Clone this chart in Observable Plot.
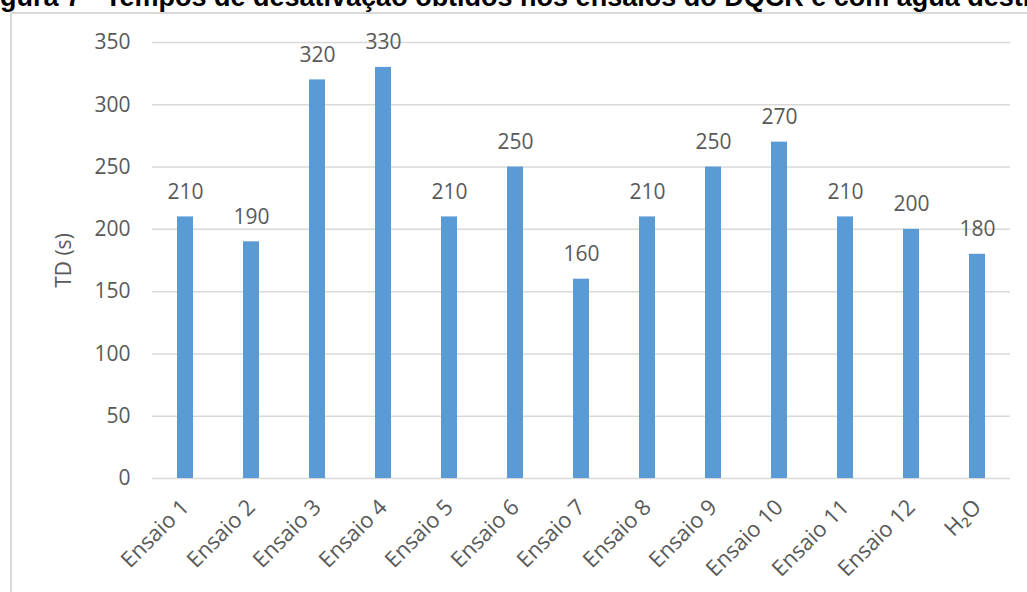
<!DOCTYPE html>
<html>
<head>
<meta charset="utf-8">
<script src="https://cdn.jsdelivr.net/npm/d3@7"></script>
<script src="https://cdn.jsdelivr.net/npm/@observablehq/plot@0.6"></script>
<style>
  html, body { margin: 0; padding: 0; background: #fff; overflow: hidden; width: 1027px; height: 592px; }
  #title { position: absolute; left: -24px; top: -16px; white-space: nowrap; font-family: "Liberation Sans", Arial, sans-serif; font-weight: bold; font-size: 27px; line-height: 27px; color: #000; }
  #frame { position: absolute; left: 10px; top: 12px; width: 1100px; height: 700px; border-left: 2px solid #d9d9d9; border-top: 2px solid #d9d9d9; }
  #chart { position: absolute; left: 0; top: 0; }
</style>
</head>
<body>
<div id="title">Figura 7 - Tempos de desativação obtidos nos ensaios do DQCR e com água destilada</div>
<div id="frame"></div>
<div id="chart"></div>
<script>
const categories = ["Ensaio 1","Ensaio 2","Ensaio 3","Ensaio 4","Ensaio 5","Ensaio 6","Ensaio 7","Ensaio 8","Ensaio 9","Ensaio 10","Ensaio 11","Ensaio 12","H₂O"];
const values = [210,190,320,330,210,250,160,210,250,270,210,200,180];
const yTicks = [0,50,100,150,200,250,300,350];
const yLabel = "TD (s)";

const data = categories.map((c, i) => ({cat: c, val: values[i]}));

const chart = Plot.plot({
  width: 1027,
  height: 592,
  marginLeft: 152,
  marginRight: 17,
  marginTop: 42,
  marginBottom: 114,
  style: {fontFamily: "'Open Sans', sans-serif", fontSize: "21px", color: "#595959", background: "transparent"},
  x: {domain: categories, paddingInner: 0.76, paddingOuter: 0.38, label: null},
  y: {domain: [0, 350], ticks: yTicks, label: null},
  marks: [
    Plot.gridY(yTicks, {stroke: "#d9d9d9", strokeOpacity: 1, strokeWidth: 1.5}),
    Plot.barY(data, {x: "cat", y: "val", fill: "#5B9BD5"}),
    Plot.text(data, {x: "cat", y: "val", text: d => String(d.val), lineAnchor: "bottom", dy: -18, fill: "#595959", fontSize: 21}),
    Plot.axisY({ticks: yTicks, tickSize: 0, tickPadding: 22, label: yLabel, labelAnchor: "center", labelArrow: "none", labelOffset: 96, fontSize: 21}),
    Plot.axisX({tickSize: 0, tickPadding: 25, tickRotate: -45, label: null, fontSize: 22})
  ]
});
document.getElementById("chart").appendChild(chart);
</script>
</body>
</html>
